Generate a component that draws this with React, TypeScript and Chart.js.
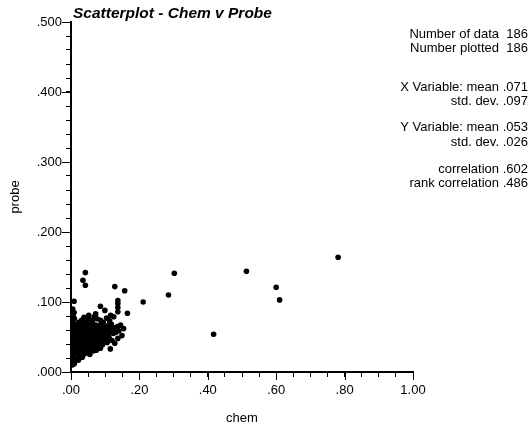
import { useEffect, useRef } from 'react';
import { Chart, registerables } from 'chart.js';

Chart.register(...registerables);

const chartTitle = 'Scatterplot - Chem v Probe';
const xAxisTitle = 'chem';
const yAxisTitle = 'probe';

// chem (x) values, one per plotted point
const chem: number[] = [
  // 0.010-0.020
  0.004, 0.006, 0.008, 0.012, 0.018, 0.022, 0.010,
  // 0.020-0.030
  0.004, 0.008, 0.015, 0.024, 0.033, 0.040, 0.048, 0.030, 0.055, 0.012,
  // 0.030-0.040
  0.003, 0.007, 0.012, 0.018, 0.025, 0.031, 0.037, 0.043, 0.050, 0.056,
  0.062, 0.068, 0.074, 0.080, 0.086, 0.092, 0.115, 0.021, 0.046, 0.065,
  // 0.040-0.050
  0.004, 0.009, 0.014, 0.019, 0.024, 0.029, 0.034, 0.039, 0.044, 0.049,
  0.054, 0.059, 0.064, 0.069, 0.074, 0.079, 0.084, 0.089, 0.094, 0.100,
  0.106, 0.112, 0.120, 0.137, 0.128, 0.057, 0.032, 0.086,
  // 0.050-0.060
  0.003, 0.008, 0.013, 0.018, 0.023, 0.028, 0.033, 0.038, 0.043, 0.048,
  0.053, 0.058, 0.063, 0.068, 0.073, 0.078, 0.083, 0.088, 0.093, 0.098,
  0.104, 0.110, 0.116, 0.124, 0.149, 0.132, 0.140, 0.045, 0.066, 0.020,
  // 0.060-0.070
  0.005, 0.010, 0.016, 0.022, 0.028, 0.034, 0.040, 0.046, 0.052, 0.058,
  0.064, 0.070, 0.076, 0.082, 0.088, 0.094, 0.100, 0.106, 0.112, 0.118,
  0.126, 0.145, 0.154, 0.136, 0.061,
  // 0.070-0.080
  0.004, 0.010, 0.023, 0.031, 0.038, 0.045, 0.052, 0.062, 0.076, 0.086,
  0.068, 0.094, 0.104, 0.113, 0.007,
  // 0.080-0.100
  0.009, 0.052, 0.072, 0.099, 0.165, 0.137, 0.086, 0.137, 0.137, 0.137,
  0.009, 0.005, 0.116, 0.125,
  // upper group
  0.042, 0.035, 0.042, 0.128, 0.157,
  // outlying
  0.781, 0.513, 0.600, 0.610, 0.417, 0.302, 0.285, 0.211,
  // extra dense cluster
  0.015, 0.027, 0.041, 0.052, 0.066, 0.071, 0.081, 0.097, 0.036, 0.055,
  0.072, 0.090, 0.011, 0.006, 0.025, 0.047, 0.060, 0.079, 0.102, 0.108,
  0.017, 0.003, 0.044, 0.063,
];

// probe (y) values, matching chem
const probe: number[] = [
  0.010, 0.014, 0.018, 0.016, 0.019, 0.017, 0.012,
  0.022, 0.025, 0.027, 0.024, 0.021, 0.026, 0.028, 0.029, 0.025, 0.029,
  0.031, 0.035, 0.038, 0.033, 0.036, 0.032, 0.039, 0.034, 0.031, 0.037,
  0.033, 0.038, 0.031, 0.036, 0.034, 0.039, 0.033, 0.040, 0.038, 0.030,
  0.042, 0.046, 0.041, 0.048, 0.044, 0.049, 0.042, 0.046, 0.041, 0.048,
  0.044, 0.049, 0.042, 0.046, 0.041, 0.048, 0.044, 0.049, 0.043, 0.047,
  0.042, 0.048, 0.045, 0.048, 0.041, 0.040, 0.047, 0.040,
  0.051, 0.055, 0.058, 0.052, 0.056, 0.059, 0.053, 0.057, 0.051, 0.055,
  0.059, 0.052, 0.056, 0.059, 0.053, 0.057, 0.051, 0.055, 0.059, 0.052,
  0.056, 0.053, 0.058, 0.055, 0.052, 0.057, 0.059, 0.058, 0.050, 0.060,
  0.061, 0.065, 0.068, 0.062, 0.067, 0.063, 0.069, 0.064, 0.061, 0.066,
  0.069, 0.062, 0.066, 0.061, 0.068, 0.064, 0.061, 0.066, 0.062, 0.068,
  0.063, 0.067, 0.062, 0.065, 0.070,
  0.071, 0.076, 0.071, 0.074, 0.078, 0.072, 0.076, 0.074, 0.076, 0.074,
  0.079, 0.071, 0.077, 0.073, 0.079,
  0.085, 0.081, 0.083, 0.088, 0.084, 0.086, 0.094, 0.092, 0.098, 0.102,
  0.101, 0.090, 0.081, 0.079,
  0.142, 0.131, 0.124, 0.122, 0.116,
  0.164, 0.144, 0.121, 0.103, 0.054, 0.141, 0.110, 0.100,
  0.045, 0.038, 0.036, 0.043, 0.047, 0.054, 0.039, 0.050, 0.060, 0.064,
  0.067, 0.058, 0.033, 0.026, 0.052, 0.068, 0.045, 0.063, 0.044, 0.059,
  0.063, 0.047, 0.029, 0.038,
];

const statsLabels = [
  'Number of data',
  'Number plotted',
  'X Variable: mean',
  'std. dev.',
  'Y Variable: mean',
  'std. dev.',
  'correlation',
  'rank correlation',
];
const statsValues = ['186', '186', '.071', '.097', '.053', '.026', '.602', '.486'];

const FONT = '"Liberation Sans", Arial, Helvetica, sans-serif';

const fmt = (v: number, digits: number) => {
  const s = v.toFixed(digits);
  return s.startsWith('0') ? s.slice(1) : s;
};
const isMultiple = (v: number, step: number) =>
  Math.abs(v / step - Math.round(v / step)) < 1e-6;

const decorPlugin = {
  id: 'decor',
  afterDraw(chart: any) {
    const ctx: CanvasRenderingContext2D = chart.ctx;
    const xs = chart.scales.x;
    const ys = chart.scales.y;
    const area = chart.chartArea;
    ctx.save();
    ctx.strokeStyle = '#000';
    ctx.lineWidth = 1;
    // longer major ticks
    ctx.beginPath();
    for (let v = 0; v <= 1.0001; v += 0.2) {
      const px = Math.round(xs.getPixelForValue(v)) + 0.5;
      ctx.moveTo(px, area.bottom);
      ctx.lineTo(px, area.bottom + 8);
    }
    for (let v = 0; v <= 0.5001; v += 0.1) {
      const py = Math.round(ys.getPixelForValue(v)) + 0.5;
      ctx.moveTo(area.left, py);
      ctx.lineTo(area.left - 9, py);
    }
    ctx.stroke();

    ctx.fillStyle = '#000';
    // title
    ctx.font = `bold italic 15.5px ${FONT}`;
    ctx.textAlign = 'left';
    ctx.textBaseline = 'alphabetic';
    ctx.fillText(chartTitle, 73, 18);

    // statistics block
    ctx.font = `13px ${FONT}`;
    const rowY = [38, 52, 91, 105, 131, 146, 173, 187];
    statsLabels.forEach((lab, i) => {
      ctx.textAlign = 'right';
      ctx.fillText(lab, 499, rowY[i]);
      ctx.fillText(statsValues[i], 528, rowY[i]);
    });
    ctx.restore();
  },
};

export default function App() {
  const ref = useRef<HTMLCanvasElement | null>(null);
  useEffect(() => {
    document.body.style.margin = '0';
    if (!ref.current) return;
    Chart.defaults.color = '#000';
    const chart = new Chart(ref.current, {
      type: 'scatter',
      data: {
        datasets: [
          {
            data: chem.map((c, i) => ({ x: c, y: probe[i] })),
            backgroundColor: '#000',
            borderColor: '#000',
            borderWidth: 0,
            pointRadius: 2.8,
            pointHoverRadius: 2.8,
          },
        ],
      },
      options: {
        responsive: false,
        animation: false,
        events: [],
        layout: { padding: { top: 22, right: 119, bottom: 0, left: 0 } },
        plugins: {
          legend: { display: false },
          title: { display: false },
          tooltip: { enabled: false },
        },
        scales: {
          x: {
            type: 'linear',
            min: 0,
            max: 1,
            afterFit: (s: any) => {
              s.height = 58;
            },
            border: { display: true, color: '#000', width: 2 },
            grid: {
              display: true,
              drawOnChartArea: false,
              drawTicks: true,
              tickLength: 5,
              color: '#000',
            },
            ticks: {
              stepSize: 0.05,
              autoSkip: false,
              maxRotation: 0,
              padding: 6,
              font: { family: FONT, size: 13 },
              color: '#000',
              callback: (v: any) => (isMultiple(Number(v), 0.2) ? fmt(Number(v), 2) : ''),
            },
            title: {
              display: true,
              text: xAxisTitle,
              font: { family: FONT, size: 13 },
              color: '#000',
              padding: { top: 0, bottom: 4 },
            },
          },
          y: {
            type: 'linear',
            min: 0,
            max: 0.5,
            afterFit: (s: any) => {
              s.width = 71;
            },
            border: { display: true, color: '#000', width: 2 },
            grid: {
              display: true,
              drawOnChartArea: false,
              drawTicks: true,
              tickLength: 5,
              color: '#000',
            },
            ticks: {
              stepSize: 0.02,
              autoSkip: false,
              padding: 4,
              font: { family: FONT, size: 13 },
              color: '#000',
              callback: (v: any) => (isMultiple(Number(v), 0.1) ? fmt(Number(v), 3) : ''),
            },
            title: {
              display: true,
              text: yAxisTitle,
              font: { family: FONT, size: 13 },
              color: '#000',
              padding: { top: 8, bottom: 0 },
            },
          },
        },
      },
      plugins: [decorPlugin],
    });
    return () => chart.destroy();
  }, []);
  return (
    <div style={{ width: 532, height: 430 }}>
      <canvas ref={ref} width={532} height={430} style={{ display: 'block' }} />
    </div>
  );
}
